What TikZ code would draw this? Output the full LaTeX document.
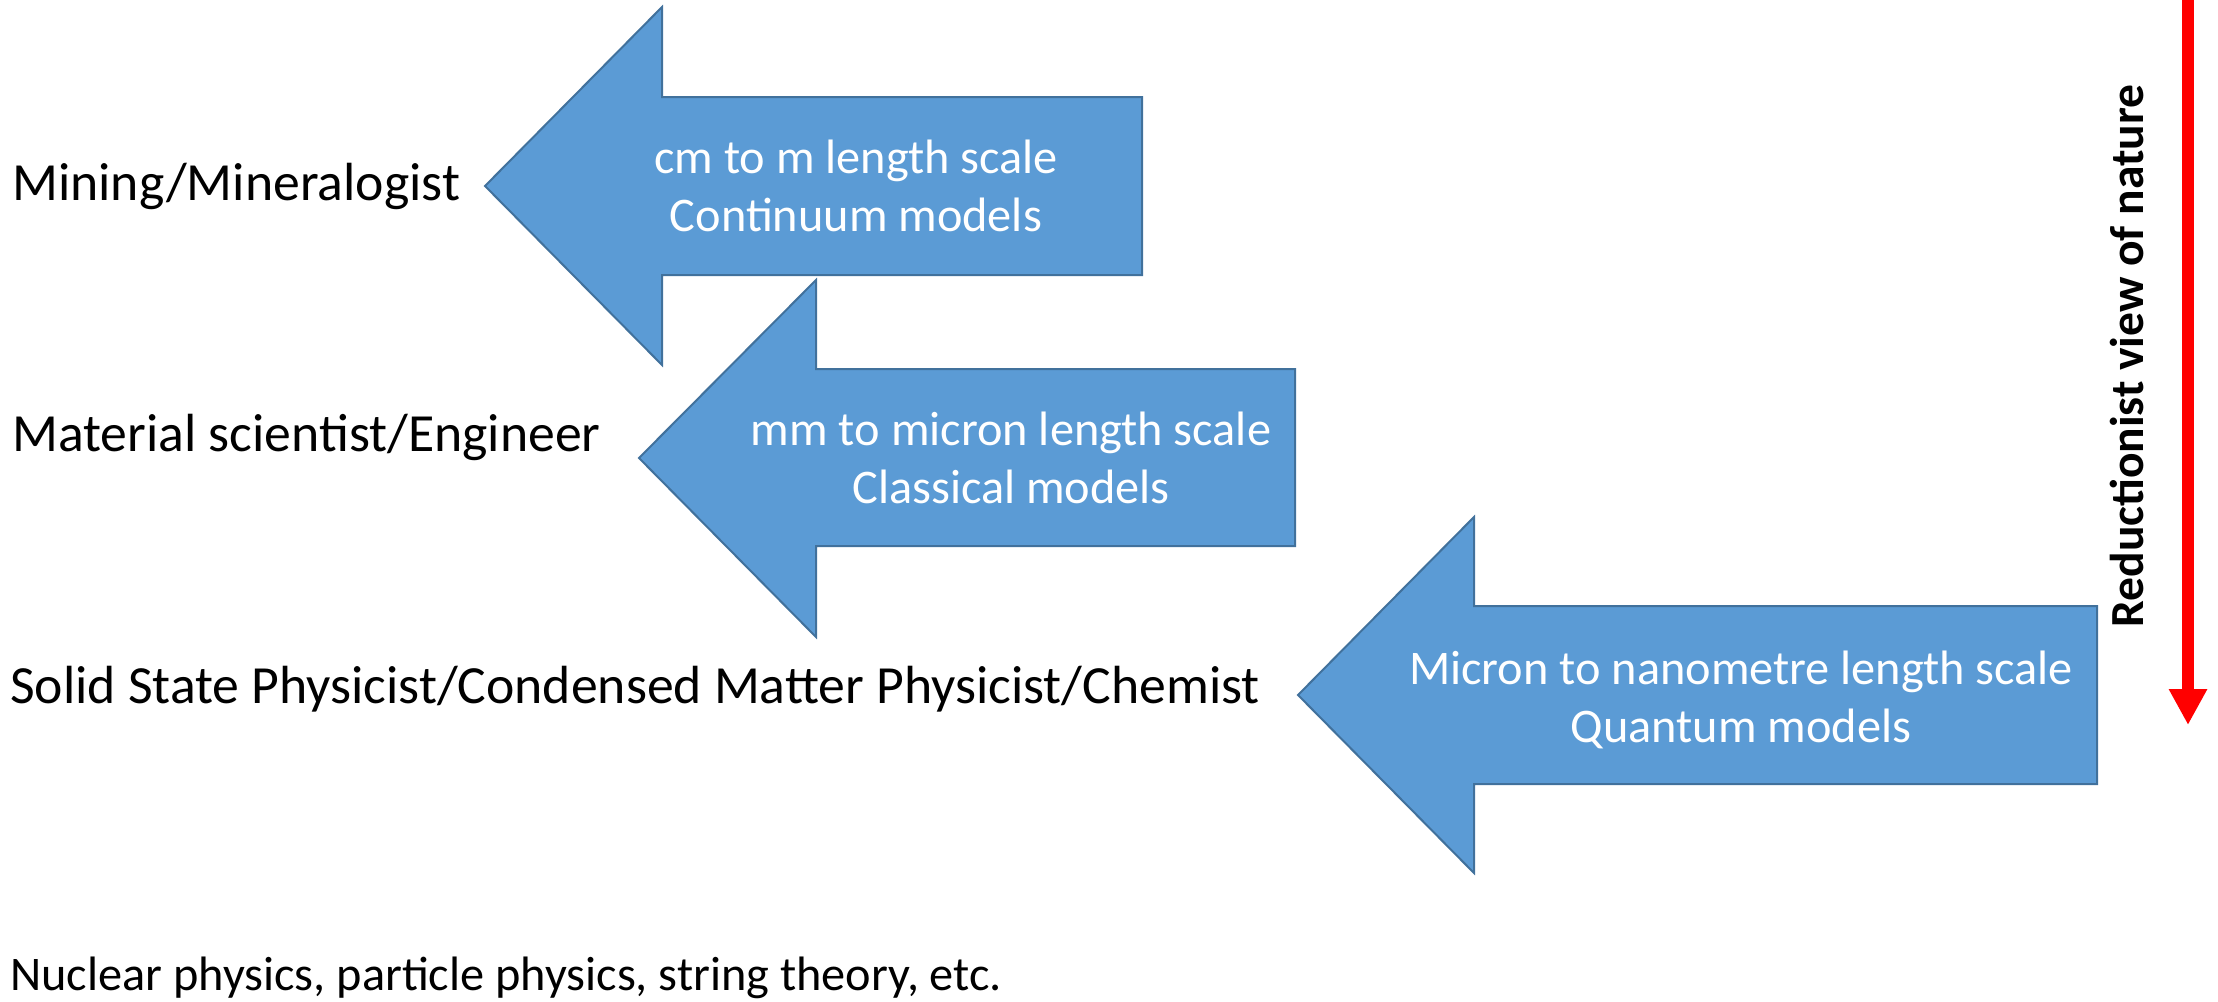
\documentclass[tikz,border=0pt]{standalone}
\usepackage{fontspec}
\setmainfont{Carlito}
\usetikzlibrary{arrows.meta}
\definecolor{arrfill}{RGB}{91,155,213}
\definecolor{arrline}{RGB}{65,113,156}
\definecolor{redarr}{RGB}{255,0,0}
\tikzset{
  bigarrow/.style={fill=arrfill, draw=arrline, line width=2pt, line join=miter},
  arrtext/.style={text=white, align=center, inner sep=0pt, anchor=base,
    font=\fontsize{48.3}{58}\selectfont},
  label/.style={text=black, inner sep=0pt, anchor=base west,
    font=\fontsize{53.7}{64}\selectfont},
}
\begin{document}
\begin{tikzpicture}[x=1pt, y=-1pt]
\useasboundingbox (0,0) rectangle (2218,1001);

% arrow 1
\draw[bigarrow] (485,186) -- (662,7) -- (662,97) -- (1142,97) -- (1142,275) -- (662,275) -- (662,365) -- cycle;
% arrow 2
\draw[bigarrow] (639,458) -- (816,280) -- (816,369) -- (1295,369) -- (1295,546) -- (816,546) -- (816,637) -- cycle;
% arrow 3
\draw[bigarrow] (1298,695) -- (1474,517) -- (1474,606) -- (2097,606) -- (2097,784) -- (1474,784) -- (1474,873) -- cycle;

\node[arrtext] (t1) at (856,231) {cm to m length scale\\Continuum models};
\node[arrtext] (t2) at (1011,503) {mm to micron length scale\\Classical models};
\node[arrtext] (t3) at (1741,742) {Micron to nanometre length scale\\Quantum models};

\node[label] (l1) at (12,200) {Mining/Mineralogist};
\node[label] (l2) at (12,451) {Material scientist/Engineer};
\node[label] (l3) at (10,703) {Solid State Physicist/Condensed Matter Physicist/Chemist};
\node[label, font=\fontsize{48.3}{58}\selectfont] (l4) at (10,990) {Nuclear physics, particle physics, string theory, etc.};

% red arrow
\coordinate (rtop) at (2188,0);
\coordinate (rbot) at (2188,725);
\draw[redarr, line width=12pt, -{Triangle[width=36pt,length=36pt]}] (rtop) -- (rbot);
\node[rotate=90, anchor=base, inner sep=0pt, font=\fontsize{47.5}{56}\selectfont\bfseries] (red) at (2143,356) {Reductionist view of nature};
\end{tikzpicture}
\end{document}
